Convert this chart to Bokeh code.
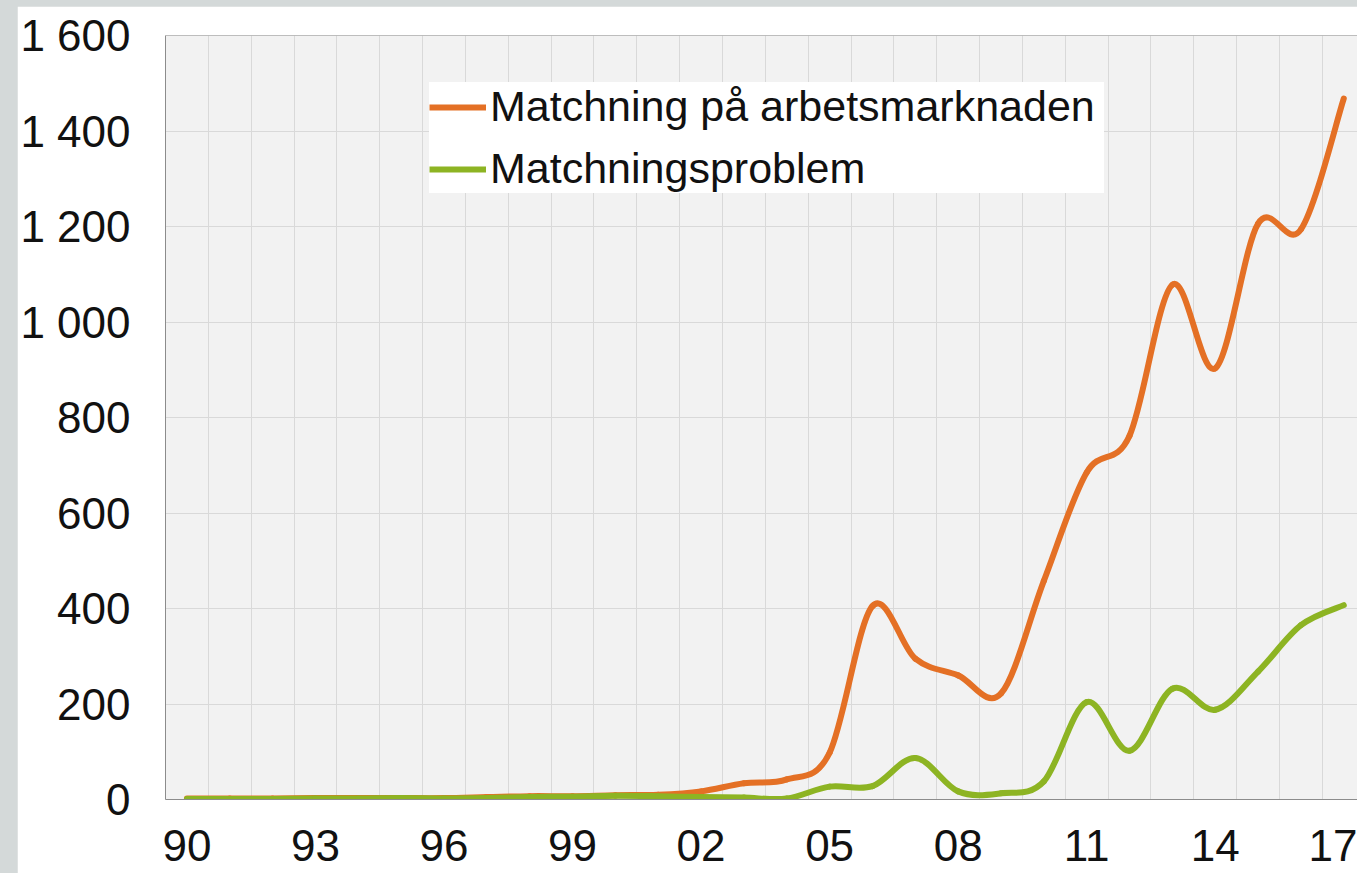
from bokeh.plotting import figure
from bokeh.models import (Range1d, FixedTicker, Legend, LegendItem, Span,
                          ColumnDataSource, GlobalInlineStyleSheet)
from bokeh.embed import file_html
from bokeh.resources import INLINE

# ---------------- data ----------------
years = list(range(1990, 2018))
matchning = [2, 2, 2, 3, 3, 3, 3, 5, 7, 7, 9, 10, 17, 34, 42, 98, 405, 295,
             260, 222, 458, 685, 762, 1078, 903, 1206, 1194, 1468]
problem = [1, 1, 1, 2, 2, 3, 2, 3, 5, 6, 8, 7, 5, 4, 2, 27, 28, 87,
           17, 13, 38, 204, 102, 232, 188, 268, 365, 407]
series_names = ["Matchning på arbetsmarknaden", "Matchningsproblem"]
series_colors = ["#E47025", "#8DB423"]

x_tick_years = [1990, 1993, 1996, 1999, 2002, 2005, 2008, 2011, 2014, 2017]
x_tick_labels = ["90", "93", "96", "99", "02", "05", "08", "11", "14", "17"]
y_ticks = [0, 200, 400, 600, 800, 1000, 1200, 1400, 1600]
y_tick_labels = ["0", "200", "400", "600", "800", "1 000", "1 200", "1 400", "1 600"]

FONT = "Liberation Sans"


def smooth_source(xs, ys):
    """Bezier control points (Catmull-Rom style smoothing) from the data points."""
    n = len(xs)
    d = dict(x0=[], y0=[], x1=[], y1=[], cx0=[], cy0=[], cx1=[], cy1=[])
    for i in range(n - 1):
        a = max(i - 1, 0)
        b = min(i + 2, n - 1)
        d["x0"].append(xs[i]); d["y0"].append(ys[i])
        d["x1"].append(xs[i + 1]); d["y1"].append(ys[i + 1])
        d["cx0"].append(xs[i] + (xs[i + 1] - xs[a]) / 6.0)
        d["cy0"].append(ys[i] + (ys[i + 1] - ys[a]) / 6.0)
        d["cx1"].append(xs[i + 1] - (xs[b] - xs[i]) / 6.0)
        d["cy1"].append(ys[i + 1] - (ys[b] - ys[i]) / 6.0)
    return ColumnDataSource(d)


p = figure(width=1340, height=867, output_backend="svg", toolbar_location=None,
           x_range=Range1d(1989.5, 2017.32), y_range=Range1d(0, 1600),
           min_border_left=148, min_border_right=0, min_border_top=29,
           min_border_bottom=74)
p.margin = (6, 0, 0, 17)
p.stylesheets = [GlobalInlineStyleSheet(css="html, body { background-color: #d4d9d9; overflow: hidden; }")]

p.background_fill_color = "#f2f2f2"
p.border_fill_color = "white"
p.outline_line_color = None

# grids
p.xgrid.ticker = FixedTicker(ticks=[y - 0.5 for y in years] + [years[-1] + 0.5])
p.ygrid.ticker = FixedTicker(ticks=y_ticks)
for g in (p.xgrid, p.ygrid):
    g.grid_line_color = "#d9d9d9"
    g.grid_line_width = 1

# axes
p.xaxis.ticker = FixedTicker(ticks=x_tick_years)
p.xaxis.major_label_overrides = {t: l for t, l in zip(x_tick_years, x_tick_labels)}
p.yaxis.ticker = FixedTicker(ticks=y_ticks)
p.yaxis.major_label_overrides = {t: l for t, l in zip(y_ticks, y_tick_labels)}
for ax in (p.xaxis, p.yaxis):
    ax.axis_line_color = "#8c8c8c"
    ax.axis_line_width = 1
    ax.major_tick_line_color = None
    ax.minor_tick_line_color = None
    ax.major_tick_out = 0
    ax.major_tick_in = 0
    ax.major_label_text_font = FONT
    ax.major_label_text_font_size = "44px"
    ax.major_label_text_color = "#111111"
p.xaxis.major_label_standoff = 30
p.yaxis.major_label_standoff = 35

p.add_layout(Span(location=1600, dimension="width", line_color="#8c8c8c", line_width=1))

# lines
legend_items = []
for vals, name, col in zip([matchning, problem], series_names, series_colors):
    src = smooth_source(years, vals)
    p.bezier(x0="x0", y0="y0", x1="x1", y1="y1", cx0="cx0", cy0="cy0",
             cx1="cx1", cy1="cy1", source=src, line_color=col, line_width=6,
             line_cap="round")
    r = p.line(years, vals, line_color=col, line_width=6, visible=False)
    legend_items.append(LegendItem(label=name, renderers=[r]))

legend = Legend(items=legend_items, location=(264, 606), orientation="vertical",
                background_fill_color="white", background_fill_alpha=1.0,
                border_line_color=None, padding=6, spacing=13, margin=0,
                glyph_width=57, glyph_height=20, label_standoff=4,
                label_width=614, label_text_font=FONT,
                label_text_font_size="43px", label_text_color="#111111")
p.add_layout(legend)

open("out.html", "w", encoding="utf-8").write(file_html(p, INLINE))
